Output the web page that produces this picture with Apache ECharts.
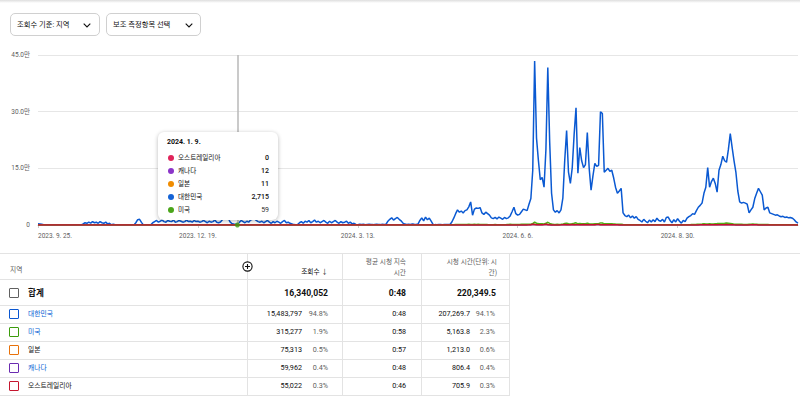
<!DOCTYPE html>
<html lang="ko">
<head>
<meta charset="utf-8">
<script src="https://cdn.jsdelivr.net/npm/echarts@6/dist/echarts.min.js"></script>
<style>
html,body{margin:0;padding:0;background:#fff;}
body{width:800px;height:396px;position:relative;overflow:hidden;font-family:Roboto,"Noto Sans CJK KR",sans-serif;color:#0f0f0f;}
#topbar{position:absolute;left:0;top:0;width:800px;height:3px;background:linear-gradient(#dedede,#fff);z-index:4;}
#chart{position:absolute;left:0;top:0;width:800px;height:250px;}
.dd{position:absolute;top:13px;height:23px;border:1px solid #d0d0d0;border-radius:5px;box-sizing:border-box;background:#fff;z-index:5;}
.t{position:absolute;white-space:nowrap;line-height:1;transform:translateY(-50%);}
.hl{position:absolute;height:1px;background:#e3e3e3;}
.vl{position:absolute;width:1px;background:#e3e3e3;}
.cb{position:absolute;box-sizing:border-box;border-radius:1px;background:#fff;}
#tip{position:absolute;left:158px;top:132px;width:120px;height:88px;background:#fff;border-radius:6px;box-shadow:0 1px 4px rgba(0,0,0,0.28);z-index:6;}
.dot{position:absolute;width:6px;height:6px;border-radius:50%;transform:translate(-50%,-50%);}
</style>
</head>
<body>
<div id="topbar"></div>
<div id="chart"></div>
<script>
// ---------- chart data ----------
const startDay = [2023, 9, 25];           // first category (y, m, d)
const xTickLabels = ['2023. 9. 25.', '2023. 12. 19.', '2024. 3. 13.', '2024. 6. 6.', '2024. 8. 30.'];
const yTicks = [0, 150000, 300000, 450000];

// 대한민국 daily views, in thousands
const koreaK = [
  3,2.5,2,1,                                                         // d0
  0.3,0.4,0.3,0.2,0.3,0.5,0.3,0.3,0.4,0.2,0.3,0.3,0.5,0.3,0.2,0.4,0.3,0.3,0.4,0.3, // d4
  3,6,4.5,7.5,5,9,6,7.5,4.5,9,6,4.5,7.5,3,4.5,                       // d24
  0.5,2,0.5,                                                         // d39
  0.3,0.3,0.4,0.3,0.2,0.3,0.4,0.3,0.3,0.3,                           // d42
  6,14,15,7,                                                         // d52
  0.4,0.3,0.4,0.5,0.4,                                               // d56
  6,9,12,7.5,10,13,9,7.5,12,10,9,13,7.5,9,12,10,7.5,9,13,9,10,7.5,12,9,10,7.5,9,12,9,6,10,7.5,9,13,7.5,6, // d61
  8,14,22,16,20,9,4,                                                 // d97
  2.5,2,2.715,                                                       // d104
  7,12,9,6,10,7.5,13,15,17,12,9,7.5,10,6,9,12,7.5,4.5,9,6,10,7.5,4.5,9,12,6,7.5,4.5,3, // d107
  1,0.8,1.5,                                                         // d136
  6,9,4.5,10,7.5,12,6,9,13,7.5,10,6,9,12,7.5,4.5,10,6,9,12,7.5,4.5,9,6,7.5,10,4.5,7.5,3,4.5, // d139
  1.5,1,2,1.2,1.8,1,1.5,2,1.2,1,1.6,2,1.3,1,1.8,1.5,2,               // d169
  10,15,19,13,17,20,15,11,5,2.5,                                     // d186
  1.5,2,1.5,3,2,1.5,2.5,                                             // d196
  12,19,11,21,14,18,10,                                              // d203
  1.5,1,0.8,1.2,1,0.8,1,1.2,1.5,                                     // d210
  1.5,8,18,30,40,34,37,32,38,40,48,61,26,42,45,44,46,32,28,34,30,26, // d219
  19,17,20,16,21,18,15,20,17,19,24,35,47,30,26,28,35,42,40,38,       // d241
  55,70,145,434,230,171,120,126,100,200,417,220,84,40,34,38,32,40,71,171, // d261
  250,140,110,152,240,310,137,205,170,152,160,245,150,92,130,163,155,158,300,295, // d281
  140,145,150,142,145,125,100,84,90,97,32,25,22,26,19,24,18,22,15,12, // d301
  8,15,10,6,13,8,14,9,18,12,10,15,8,20,21,12,6,14,8,17,              // d321
  10,5,12,9,18,22,25,30,28,38,47,52,58,84,100,152,100,115,124,110,   // d341
  87,145,160,182,170,166,200,242,205,170,139,90,61,58,60,58,55,32,40,47, // d361
  70,84,97,88,79,40,45,47,32,30,28,26,27,24,22,23,20,21,19,20,       // d381
  18,14,8,5                                                          // d401
];

// 미국 daily views
const usViews = [
  40,55,38,60,45,52,35,48,62,44, 50,37,58,46,41,63,49,36,54,47, 39,61,52,44,57,48,66,42,53,59,
  45,70,51,63,48,56,74,50,43,60, 55,47,66,52,40,58,49,62,45,53, 61,72,95,88,64,50,57,48,63,55,
  68,76,82,70,64,79,85,73,66,80, 74,69,83,77,71,88,75,68,81,72, 78,86,70,74,90,76,69,83,72,79,
  84,71,77,92,80,68,75,88,110,96, 104,82,66,58,63,55,59,72,81,69, 76,85,79,93,101,88,74,70,83,77,
  68,80,86,73,62,84,75,79,66,71, 82,90,70,74,58,50,47,55,69,78, 72,88,75,92,70,81,96,73,85,76,
  65,79,87,71,60,83,69,90,77,64, 73,84,68,76,89,62,70,55,60,52, 57,49,61,54,58,66,51,60,55,48,
  53,62,56,64,50,57,140,190,240,170, 210,250,160,90,62,55,64,70,180,220, 160,250,190,280,210,170,230,200,150,260,
  200,120,60,52,58,50,55,62,80,
  400,600,800,1600,1300,1400,1500,1450,1350,1600, 2200,1100,1450,1700,1650,1800,1250,1100,1300,1200,
  1000,900,950,850,1000,900,800,950,850,900, 1000,1300,1800,1300,1100,1100,1400,1600,
  1700,1800,1750,1700,2000,2300,3500,7500,4600,3800, 3100,3200,2800,4500,7200,4400,2500,1700,1600,1700,
  1600,1700,2300,3800,5000,3200,2700,3300,4400,5800, 3100,4000,3500,3300,3400,4700,3300,2400,2900,3400,
  3300,3350,5600,5400,3000,3100,3200,3050,3100,2800, 2400,2100,2200,2300,
  1100,900,850,800,750,900,700,850,650,800, 600,500,400,600,450,350,550,400,600,450,
  420,600,500,700,750,480,330,580,400,650, 450,300,480,400,650,800,1050,1450,
  1600,1700,1850,2300,2600,3500,2600,2900,3000,2800, 2400,3400,3700,4100,3900,3800,4400,5100,4500,3900,
  3300,2300,1800,1700,1750,1700,1100,1300,1450,1950, 2200,2450,2300,2100,1300,1400,1400,1100,1050,1000,
  950,900,950,850,800,850,750,750,700,750, 650,600,500,400,300,250
];

// 일본 daily views
const japanViews = [
  12,8,15,10,6,9,14,11,7,10, 13,9,6,11,15,8,10,12,7,9, 14,10,8,16,12,9,11,13,8,10,
  15,11,9,7,12,14,10,8,13,11, 9,12,16,10,8,11,14,9,12,10, 13,18,20,15,11,9,12,10,14,11,
  12,15,17,13,10,14,16,12,11,15, 13,11,16,14,12,10,15,13,11,14, 12,16,13,11,15,14,12,10,13,15,
  11,14,12,16,13,10,12,15,18,16, 17,13,10,9,12,10,11,13,15,12, 10,14,12,16,18,15,13,11,14,12,
  10,13,15,12,9,14,11,13,10,12, 14,16,11,12,9,8,7,9,12,14, 11,15,13,16,12,14,17,13,15,12,
  10,13,15,12,9,14,11,16,13,10, 12,14,11,13,15,10,12,9,10,8, 9,7,10,8,9,11,8,10,9,7,
  8,10,9,11,8,9,18,22,26,20, 24,27,19,12,9,8,10,11,20,24, 18,26,21,28,22,19,25,23,18,27,
  22,15,8,7,9,8,7,9,10,
  60,90,120,260,210,230,250,240,220,260, 380,180,240,290,280,300,210,190,220,200,
  170,150,160,140,170,150,130,160,140,150, 170,220,310,220,180,190,230,270,
  280,260,320,400,600,900,2600,1400,1000,760, 780,620,1500,2500,1200,520,260,220,240,200,
  240,450,1000,1500,850,680,900,1800,820,1200, 1000,920,960,1450,900,560,780,980,920,950,
  1800,1750,840,870,900,850,870,750,600,500, 540,580,200,150,
  130,120,150,110,140,100,130,90,70,50, 90,60,40,80,50,90,60,60,90,70,
  110,120,70,40,90,50,100,60,30,70, 50,100,130,150,180,170,230,280,
  300,320,360,500,600,900,600,700,740,660, 520,870,960,1100,1020,1000,1200,1450,1230,1020,
  830,540,370,350,360,350,190,240,280,420, 500,580,530,470,240,270,280,190,180,170,
  160,150,160,140,130,140,120,120,110,120, 100,90,70,50,30,25
];

// 캐나다 daily views
const canadaViews = [
  6,9,5,8,11,7,4,10,8,6, 9,12,7,5,10,8,6,11,9,7, 5,8,10,7,12,9,6,8,11,10,
  7,9,12,8,6,10,13,9,7,11, 8,6,10,12,9,7,11,8,10,9, 11,8,14,17,12,9,7,10,8,12,
  9,11,14,12,10,13,9,11,15,12, 10,13,11,9,14,12,10,15,11,13, 12,10,14,11,13,9,12,14,10,11,
  13,12,10,14,11,9,10,13,16,14, 15,12,9,8,10,9,12,10,13,11, 9,12,14,11,15,16,12,10,13,11,
  9,12,14,10,8,12,13,10,9,11, 12,14,10,11,8,7,6,8,10,12, 10,13,11,14,10,12,15,11,13,10,
  9,12,14,10,8,13,10,14,12,9, 11,13,10,12,14,9,11,8,9,7, 8,6,9,7,8,10,7,9,8,6,
  7,9,8,10,7,8,15,18,21,17, 20,23,16,10,8,7,9,10,17,20, 15,22,18,24,19,16,21,20,15,23,
  19,13,7,6,8,7,6,8,9,
  50,70,100,210,170,190,200,190,180,210, 300,150,190,230,220,240,170,150,180,160,
  140,120,130,110,140,120,100,130,110,120, 140,180,250,180,150,150,190,220,
  230,210,260,330,500,720,2100,1100,800,610, 630,500,1200,2000,960,420,210,180,190,160,
  190,360,800,1200,680,540,720,1440,660,960, 800,740,770,1160,720,450,620,780,740,760,
  1440,1400,670,700,720,680,700,600,480,400, 430,460,160,120,
  100,95,120,90,110,80,100,70,55,40, 70,50,30,65,40,70,50,45,70,55,
  90,95,55,30,70,40,80,50,25,55, 40,80,100,120,145,135,180,220,
  240,260,290,400,480,720,480,560,590,530, 420,700,770,880,820,800,960,1160,980,820,
  660,430,300,280,290,280,150,190,220,340, 400,460,420,380,190,220,220,150,145,135,
  130,120,130,110,105,110,95,95,90,95, 80,70,55,40,25,20
];

// 오스트레일리아 daily views
const australiaViews = [
  2,0,3,1,0,2,4,1,0,3, 1,2,0,3,1,0,2,1,3,0, 2,1,4,0,2,3,1,0,2,1,
  3,0,1,2,4,1,0,3,2,1, 0,2,3,1,0,2,1,3,0,2, 1,4,6,3,2,0,1,3,2,1,
  3,2,4,1,3,5,2,1,4,3, 2,4,3,1,5,2,3,4,1,3, 2,5,3,2,4,1,3,5,2,4,
  3,1,4,2,5,3,2,4,6,5, 7,3,1,2,1,2,0,2,3,1, 2,4,3,5,6,4,2,3,5,2,
  1,3,4,2,1,4,3,2,1,3, 4,5,2,3,1,0,1,2,3,4, 2,5,3,4,2,3,6,2,4,3,
  1,3,5,2,1,4,2,5,3,1, 2,4,1,3,5,1,2,0,1,0, 1,0,2,1,0,2,1,0,1,0,
  1,2,0,1,0,1,6,8,10,7, 9,11,6,3,1,0,2,1,7,9, 6,10,8,12,9,7,10,9,6,11,
  8,4,1,0,1,0,1,2,3,
  40,60,90,200,160,180,190,180,170,200, 290,140,180,220,210,230,160,140,170,150,
  130,110,120,100,130,110,90,120,100,110, 130,170,240,170,140,140,180,210,
  220,200,250,310,480,680,1950,1050,760,580, 600,470,1130,1900,910,400,200,170,180,150,
  180,340,760,1130,640,510,680,1360,620,910, 760,700,730,1100,680,420,590,740,700,720,
  1360,1320,630,660,680,640,660,570,450,380, 410,440,150,110,
  90,90,110,80,100,75,95,65,50,35, 65,45,28,60,36,64,45,42,64,50,
  82,88,50,28,64,36,74,45,22,50, 36,74,92,110,132,124,165,200,
  220,240,265,370,440,660,440,510,540,485, 385,640,700,800,750,730,880,1060,900,750,
  600,395,275,255,265,255,140,175,200,310, 365,420,385,345,175,200,200,140,132,124,
  118,110,118,100,95,100,88,88,80,88, 72,64,50,36,22,18
];

const tooltipIndex = 106;   // 2024. 1. 9.

// ---------- table data ----------
const countries = ['대한민국', '미국', '일본', '캐나다', '오스트레일리아'];
const views = [15483797, 315277, 75313, 59962, 55022];
const viewPct = ['94.8%', '1.9%', '0.5%', '0.4%', '0.3%'];
const avgDuration = ['0:48', '0:58', '0:57', '0:48', '0:46'];
const watchHours = ['207,269.7', '5,163.8', '1,213.0', '806.4', '705.9'];
const watchPct = ['94.1%', '2.3%', '0.6%', '0.4%', '0.3%'];
const totals = { views: 16340052, avg: '0:48', watch: '220,349.5' };

// ---------- colours ----------
const lineColors = { kr: '#0a59d2', us: '#4fae17', jp: '#e8710a', ca: '#7a2fbf', au: '#c8102e' };
const boxColors = ['#0b57d0', '#3c9c0c', '#e8710a', '#6a2bb0', '#c5162f'];
const nameColors = ['#065fd4', '#065fd4', '#0f0f0f', '#065fd4', '#0f0f0f'];

// ---------- categories ----------
const nDays = koreaK.length;
const dates = [];
const t0 = Date.UTC(startDay[0], startDay[1] - 1, startDay[2]);
for (let i = 0; i < nDays; i++) {
  const dt = new Date(t0 + i * 86400000);
  dates.push(dt.getUTCFullYear() + '. ' + (dt.getUTCMonth() + 1) + '. ' + dt.getUTCDate() + '.');
}
const koreaViews = koreaK.map(v => Math.round(v * 1000));

const FF = 'Roboto, "Noto Sans CJK KR", sans-serif';
function lineSeries(name, data, color, z) {
  return { name, type: 'line', data, symbol: 'none', showSymbol: false, z,
    lineStyle: { color, width: 1.5 }, itemStyle: { color }, emphasis: { disabled: true } };
}

const chart = echarts.init(document.getElementById('chart'), null, { renderer: 'svg' });
const krSeries = lineSeries('대한민국', koreaViews, lineColors.kr, 2);
krSeries.markLine = {
  silent: true, symbol: ['none', 'none'], label: { show: false },
  lineStyle: { color: '#b8b8b8', width: 1.5, type: 'solid' },
  data: [{ xAxis: dates[tooltipIndex] }]
};
chart.setOption({
  animation: false,
  grid: { left: 38, right: 2, top: 55, height: 170 },
  xAxis: {
    type: 'category', data: dates, boundaryGap: false,
    axisLine: { lineStyle: { color: '#cccccc', width: 1 } },
    axisTick: { show: true, interval: 84, length: 3, lineStyle: { color: '#cccccc' } },
    axisLabel: { interval: 84, fontSize: 6.5, color: '#606060', margin: 8, fontFamily: FF, alignMinLabel: 'left',
      formatter: v => xTickLabels.includes(v) ? v : v },
    splitLine: { show: false }
  },
  yAxis: {
    type: 'value', min: yTicks[0], max: yTicks[yTicks.length - 1], interval: yTicks[1] - yTicks[0],
    axisLine: { show: false }, axisTick: { show: false },
    axisLabel: { fontSize: 6.5, color: '#606060', margin: 8, fontFamily: FF,
      formatter: v => v === 0 ? '0' : (v / 10000).toFixed(1) + '만' },
    splitLine: { lineStyle: { color: '#e6e6e6', width: 1 } }
  },
  series: [
    krSeries,
    lineSeries('일본', japanViews, lineColors.jp, 3),
    lineSeries('캐나다', canadaViews, lineColors.ca, 3),
    lineSeries('미국', usViews, lineColors.us, 4),
    lineSeries('오스트레일리아', australiaViews, lineColors.au, 5),
    { type: 'scatter', data: [[dates[tooltipIndex], usViews[tooltipIndex]]], symbolSize: 5, z: 8,
      itemStyle: { color: '#3f9c10' }, silent: true }
  ]
});

// ---------- HTML parts ----------
const body = document.body;
function el(cls, css, parent) {
  const d = document.createElement('div');
  d.className = cls; Object.assign(d.style, css); (parent || body).appendChild(d); return d;
}
function txt(s, x, y, o = {}, parent) {
  const d = el('t', { top: y + 'px', fontSize: (o.size || 7.2) + 'px', color: o.color || '#0f0f0f' }, parent);
  if (o.right) d.style.right = ((o.w || 800) - x) + 'px'; else d.style.left = x + 'px';
  if (o.bold) d.style.fontWeight = o.bold;
  d.textContent = s; return d;
}
const chevron = '<svg width="8" height="5" viewBox="0 0 8 5" style="position:absolute;top:9px"><polyline points="0.7,0.7 4,4 7.3,0.7" fill="none" stroke="#0f0f0f" stroke-width="1.1"/></svg>';

// dropdowns
const dd1 = el('dd', { left: '10px', width: '90px' });
txt('조회수 기준: 지역', 6, 11, { size: 7.3 }, dd1);
dd1.insertAdjacentHTML('beforeend', chevron.replace('position:absolute', 'position:absolute;left:72px'));
const dd2 = el('dd', { left: '106px', width: '95px' });
txt('보조 측정항목 선택', 6, 11, { size: 7.3 }, dd2);
dd2.insertAdjacentHTML('beforeend', chevron.replace('position:absolute', 'position:absolute;left:78px'));

// tooltip
const tip = el('', {}, body); tip.id = 'tip';
txt(dates[tooltipIndex], 9, 10, { size: 7, bold: 'bold' }, tip);
const tipRows = [
  ['오스트레일리아', australiaViews[tooltipIndex], '#e0245a'],
  ['캐나다', canadaViews[tooltipIndex], '#8b35c8'],
  ['일본', japanViews[tooltipIndex], '#f08c00'],
  ['대한민국', koreaViews[tooltipIndex], '#1463d6'],
  ['미국', usViews[tooltipIndex], '#4aa51a']
];
tipRows.forEach((r, i) => {
  const y = 25.7 + i * 13;
  el('dot', { left: '12.7px', top: y + 'px', background: r[2] }, tip);
  txt(r[0], 20, y, { size: 6.6 }, tip);
  txt(r[1].toLocaleString('en-US'), 111, y, { size: 7, right: true, w: 120, bold: i < 4 ? '500' : 'normal', color: i < 4 ? '#0f0f0f' : '#333' }, tip);
});

// table grid lines
el('hl', { left: '0px', top: '253px', width: '800px' });
[279, 305, 323, 341, 359, 377, 395].forEach(y => el('hl', { left: '0px', top: y + 'px', width: '510px' }));
[247, 342, 421, 509].forEach(x => el('vl', { left: x + 'px', top: '253px', height: '143px' }));

// header
txt('지역', 10, 270, { size: 6.7, color: '#606060' });
body.insertAdjacentHTML('beforeend', '<svg width="11" height="11" viewBox="0 0 11 11" style="position:absolute;left:242px;top:261px;z-index:3"><circle cx="5.5" cy="5.5" r="4.6" fill="#fff" stroke="#0f0f0f" stroke-width="1.1"/><path d="M5.5 3v5M3 5.5h5" stroke="#0f0f0f" stroke-width="1.1"/></svg>');
txt('조회수  ↓', 328, 272, { size: 6.7, right: true, color: '#0f0f0f' });
txt('평균 시청 지속', 406, 262, { size: 6.7, right: true, color: '#606060' });
txt('시간', 406, 273, { size: 6.7, right: true, color: '#606060' });
txt('시청 시간(단위: 시', 497, 262, { size: 6.7, right: true, color: '#606060' });
txt('간)', 497, 273, { size: 6.7, right: true, color: '#606060' });

// total row
el('cb', { left: '9px', top: '288px', width: '10px', height: '10px', border: '1.4px solid #606060' });
txt('합계', 28, 293, { size: 8.6, bold: 'bold' });
txt(totals.views.toLocaleString('en-US'), 328, 293, { size: 8.6, bold: 'bold', right: true });
txt(totals.avg, 406, 293, { size: 8.6, bold: 'bold', right: true });
txt(totals.watch, 496, 293, { size: 8.6, bold: 'bold', right: true });

// country rows
countries.forEach((c, i) => {
  const y = 314 + i * 18;
  el('cb', { left: '9px', top: (y - 5) + 'px', width: '10px', height: '10px', border: '1.4px solid ' + boxColors[i] });
  txt(c, 28, y, { size: 6.8, color: nameColors[i] });
  txt(views[i].toLocaleString('en-US'), 302, y, { size: 7.2, right: true });
  txt(viewPct[i], 328, y, { size: 7.2, right: true, color: '#606060' });
  txt(avgDuration[i], 406, y, { size: 7.2, right: true });
  txt(watchHours[i], 470, y, { size: 7.2, right: true });
  txt(watchPct[i], 495, y, { size: 7.2, right: true, color: '#606060' });
});
</script>
</body>
</html>
